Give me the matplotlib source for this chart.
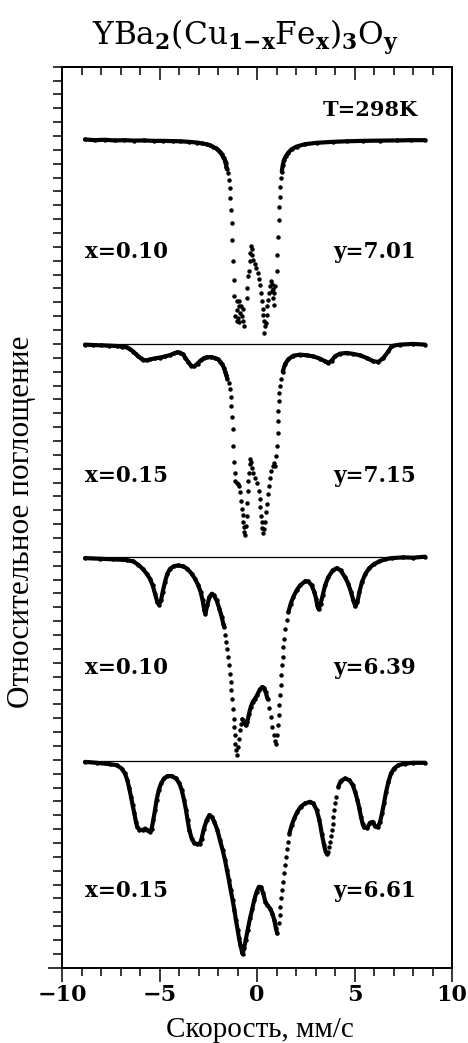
import numpy as np
import matplotlib.pyplot as plt
from matplotlib.ticker import MultipleLocator, FixedLocator

# Мёссбауэровские спектры YBa2(Cu1-xFex)3Oy, T=298K
# v - скорость (мм/с), d - глубина поглощения (в делениях оси y)

v1 = [-8.82, -8.3, -7.8, -7.3, -6.8, -6.3, -5.8, -5.3, -4.8, -4.3, -3.95, -3.5, -3.09, -2.8, -2.58,
      -2.4, -2.24, -2.1, -1.98, -1.88, -1.81, -1.74, -1.69, -1.64, -1.61, -1.57, -1.54,
      -1.50, -1.46, -1.40, -1.36, -1.33, -1.30, -1.26, -1.23, -1.20, -1.16,
      -1.04, -0.91, -0.94, -0.82, -1.04, -0.70, -0.87, -1.11, -0.99, -0.79, -1.04, -0.70, -0.65, -0.91,
      -0.53, -0.50, -0.44, -0.41, -0.38, -0.34, -0.31, -0.27, -0.24, -0.19, -0.12, -0.03, 0.05, 0.12,
      0.17, 0.21, 0.26, 0.29, 0.32, 0.36, 0.39, 0.34,
      0.44, 0.50, 0.53, 0.58, 0.63, 0.67, 0.70, 0.77, 0.84, 0.75, 0.89, 0.80, 0.87, 0.94,
      1.01, 1.04, 1.09, 1.13, 1.15, 1.16, 1.20, 1.23,
      1.27, 1.32, 1.38, 1.49, 1.61, 1.78, 2.03, 2.46, 3.06, 3.91, 4.6, 5.45, 6.3, 7.16, 7.9, 8.62]
d1 = [-0.05, 0.0, -0.03, 0.02, 0.0, 0.03, 0.02, 0.05, 0.05, 0.07, 0.08, 0.12, 0.17, 0.24, 0.30,
      0.38, 0.48, 0.60, 0.72, 0.88, 1.03, 1.20, 1.32, 1.50, 1.68, 1.90, 2.10,
      2.40, 2.88, 3.48, 4.20, 5.04, 6.00, 7.19, 8.75, 10.07, 11.27,
      11.63, 11.58, 11.99, 11.99, 12.23, 12.16, 12.47, 12.71, 12.83, 12.71, 13.07, 13.07, 13.38, 13.12,
      11.39, 10.67, 9.83, 9.47, 8.75, 8.15, 7.60, 7.84, 8.27, 8.63, 8.94, 9.23, 9.59, 10.00,
      10.48, 11.03, 11.63, 12.16, 12.64, 13.07, 13.43, 13.91,
      13.19, 12.59, 11.99, 11.51, 11.03, 10.55, 10.19, 10.38, 10.72, 10.91, 11.03, 11.39, 11.87, 10.55,
      9.47, 8.27, 6.95, 5.76, 4.80, 4.08, 3.36, 2.76,
      2.28, 1.80, 1.44, 1.13, 0.89, 0.65, 0.46, 0.29, 0.19, 0.12, 0.08, 0.05, 0.03, 0.02, 0.0, 0.0]

v2 = [-8.82, -8.4, -8.0, -7.6, -7.2, -6.9, -6.68, -6.5, -6.34, -6.2, -6.09, -5.95, -5.83, -5.66,
      -5.49, -5.25, -4.97, -4.7, -4.46, -4.25, -4.1, -3.95, -3.8, -3.69, -3.52, -3.37, -3.22, -3.05,
      -2.88, -2.72, -2.58, -2.35, -2.15, -2.0, -1.88, -1.78, -1.70, -1.63, -1.57, -1.52,
      -1.42, -1.38, -1.35, -1.32, -1.28, -1.25, -1.21, -1.18, -1.15, -1.11, -1.04, -0.96, -0.91,
      -0.87, -0.82, -0.77, -0.74, -0.70, -0.67, -0.65, -0.63, -0.56, -0.53, -0.50, -0.46, -0.44,
      -0.41, -0.38, -0.34, -0.31, -0.26, -0.19, -0.09, 0.02, 0.09, 0.14, 0.17, 0.21, 0.24, 0.27,
      0.31, 0.36, 0.39, 0.44, 0.50, 0.55, 0.60, 0.65, 0.72, 0.80, 0.87, 0.94, 0.99, 1.03, 1.06,
      1.08, 1.09, 1.11, 1.15, 1.18, 1.23,
      1.32, 1.44, 1.61, 1.86, 2.21, 2.55, 2.89, 3.23, 3.49, 3.66, 3.83, 4.0, 4.26, 4.6, 4.94,
      5.28, 5.62, 5.97, 6.22, 6.48, 6.74, 6.91, 7.33, 8.02, 8.62]
d2 = [0.05, 0.08, 0.10, 0.12, 0.15, 0.20, 0.25, 0.40, 0.55, 0.75, 0.90, 1.05, 1.15, 1.18,
      1.12, 1.05, 0.98, 0.90, 0.80, 0.68, 0.60, 0.62, 0.75, 0.98, 1.32, 1.58, 1.62, 1.42,
      1.18, 1.03, 0.96, 0.95, 1.02, 1.12, 1.28, 1.48, 1.72, 2.00, 2.25, 2.52,
      2.79, 3.27, 3.80, 4.47, 5.24, 6.15, 7.35, 8.55, 9.28, 9.88, 10.00, 10.10, 10.24,
      10.67, 11.32, 11.92, 12.35, 12.83, 13.24, 13.60, 13.80, 13.12, 12.40, 11.44, 10.60, 9.88,
      9.28, 8.67, 8.27, 8.51, 8.92, 9.28, 9.64, 10.05, 10.60, 11.20, 11.80, 12.40, 12.88, 13.31,
      13.65, 13.36, 12.83, 12.16, 11.56, 10.84, 10.24, 9.64, 9.16, 8.80, 8.60, 8.80, 8.07, 7.35, 6.39,
      5.55, 4.83, 4.11, 3.51, 3.03, 2.55,
      2.00, 1.45, 1.10, 0.85, 0.77, 0.82, 0.90, 1.06, 1.25, 1.37, 1.20, 0.89, 0.70, 0.65, 0.72,
      0.82, 1.01, 1.25, 1.30, 1.01, 0.53, 0.15, 0.05, 0.0, 0.05]

v3 = [-8.82, -8.05, -7.37, -6.68, -6.34, -6.09, -5.83, -5.66, -5.49, -5.35, -5.23, -5.11, -5.03,
      -4.92, -4.84, -4.72, -4.6, -4.46, -4.26, -4.03, -3.78, -3.57, -3.35, -3.18, -3.01, -2.89,
      -2.79, -2.70, -2.65, -2.55, -2.44, -2.32, -2.21, -2.07, -1.93, -1.81, -1.73, -1.68,
      -1.64, -1.61, -1.56, -1.50, -1.45, -1.40, -1.35, -1.32, -1.26, -1.23, -1.20, -1.16, -1.13,
      -1.11, -1.08, -1.04, -0.99, -0.94, -0.89, -0.82,
      -0.75, -0.67, -0.58, -0.50, -0.41, -0.32, -0.22, -0.10, 0.02, 0.15, 0.27, 0.36, 0.44, 0.55,
      0.63, 0.72, 0.79, 0.85, 0.92, 0.97, 1.03, 1.08, 1.11, 1.15, 1.18, 1.21, 1.25, 1.28, 1.32,
      1.35, 1.40, 1.45, 1.52,
      1.61, 1.73, 1.86, 2.03, 2.21, 2.46, 2.63, 2.80, 2.94, 3.03, 3.09, 3.16, 3.26, 3.37, 3.49,
      3.66, 3.88, 4.09, 4.29, 4.51, 4.68, 4.82, 4.94, 5.04, 5.15, 5.25, 5.38, 5.56, 5.76, 6.0,
      6.27, 6.56, 6.91, 7.5, 8.02, 8.62]
d3 = [0.05, 0.10, 0.14, 0.19, 0.29, 0.53, 0.87, 1.18, 1.54, 2.02, 2.62, 3.22, 3.41,
      3.10, 2.50, 1.78, 1.18, 0.82, 0.63, 0.58, 0.65, 0.82, 1.18, 1.54, 2.02, 2.50,
      3.10, 3.82, 4.06, 3.46, 2.86, 2.62, 2.74, 3.10, 3.70, 4.30, 4.78, 5.02,
      5.63, 6.11, 6.59, 7.19, 7.79, 8.39, 8.99, 9.59, 10.19, 10.91, 11.63, 12.24, 12.84,
      13.44, 13.92, 14.23, 13.68, 13.08, 12.48, 12.00,
      11.68, 11.83, 12.12, 11.88, 11.27, 10.79, 10.43, 10.19, 9.90, 9.52, 9.35, 9.42, 9.71, 10.24,
      10.87, 11.51, 12.24, 12.84, 13.27, 13.44, 12.84, 12.12, 11.39, 10.67, 9.95, 9.23, 8.51, 7.79, 7.19,
      6.47, 5.87, 5.19, 4.54,
      3.94, 3.34, 2.86, 2.38, 2.02, 1.73, 1.73, 2.02, 2.50, 2.98, 3.46, 3.75, 3.34, 2.74, 2.02,
      1.42, 0.94, 0.77, 0.94, 1.42, 1.90, 2.50, 3.10, 3.53, 3.22, 2.50, 1.78, 1.18, 0.77, 0.48,
      0.29, 0.14, 0.05, 0.0, 0.02, -0.05]

v4 = [-8.82, -8.22, -7.54, -7.2, -6.94, -6.77, -6.65, -6.55, -6.46, -6.38, -6.29, -6.21, -6.14,
      -6.04, -5.86, -5.74, -5.62, -5.49, -5.40, -5.32, -5.23, -5.15, -5.04, -4.92, -4.77, -4.60,
      -4.38, -4.15, -3.98, -3.86, -3.74, -3.64, -3.56, -3.47, -3.35, -3.23, -3.06, -2.92, -2.84,
      -2.72, -2.58, -2.44, -2.32, -2.19, -2.03, -1.90, -1.76, -1.64, -1.54, -1.44, -1.35, -1.25,
      -1.16, -1.08, -0.99, -0.92, -0.85, -0.79, -0.74, -0.67, -0.58, -0.48, -0.36, -0.24, -0.14,
      -0.02, 0.10, 0.21, 0.32, 0.43, 0.53, 0.67, 0.79, 0.89, 0.97, 1.04,
      1.11, 1.16, 1.20, 1.23, 1.26, 1.32, 1.37, 1.42, 1.47, 1.52, 1.57,
      1.66, 1.78, 1.91, 2.07, 2.24, 2.46, 2.72, 2.89, 3.06, 3.20, 3.32, 3.44, 3.52, 3.61,
      3.66, 3.71, 3.75, 3.79, 3.83, 3.88, 3.92, 3.97, 4.01, 4.05,
      4.17, 4.29, 4.51, 4.74, 4.91, 5.03, 5.15, 5.25, 5.33, 5.42, 5.50, 5.66, 5.79, 5.93, 6.05,
      6.19, 6.31, 6.41, 6.51, 6.62, 6.74, 6.87, 7.03, 7.25, 7.59, 8.02, 8.62]
d4 = [0.05, 0.12, 0.22, 0.29, 0.53, 0.89, 1.37, 1.97, 2.57, 3.17, 3.77, 4.38, 4.74,
      4.93, 4.98, 4.86, 4.98, 5.10, 4.86, 4.25, 3.53, 2.81, 2.09, 1.61, 1.25, 1.08,
      1.08, 1.25, 1.61, 2.09, 2.81, 3.53, 4.25, 4.98, 5.58, 5.89, 5.99, 5.94, 5.58,
      4.86, 4.25, 3.89, 4.01, 4.38, 4.98, 5.70, 6.42, 7.14, 7.86, 8.58, 9.30, 10.02,
      10.75, 11.47, 12.19, 12.79, 13.27, 13.63, 13.92, 13.51, 12.91, 12.19, 11.35, 10.63, 10.02,
      9.42, 9.06, 9.11, 9.54, 10.14, 10.38, 10.63, 10.99, 11.47, 12.07, 12.43,
      11.71, 11.11, 10.50, 9.90, 9.30, 8.70, 8.10, 7.50, 6.90, 6.37, 5.82,
      5.22, 4.62, 4.13, 3.65, 3.29, 3.05, 2.93, 3.05, 3.53, 4.25, 5.22, 6.06, 6.54, 6.71,
      6.55, 6.20, 5.80, 5.40, 4.95, 4.50, 4.00, 3.50, 3.00, 2.57,
      1.85, 1.44, 1.25, 1.37, 1.73, 2.21, 2.81, 3.41, 4.01, 4.54, 4.78, 4.81, 4.45, 4.38, 4.69,
      4.78, 4.38, 3.77, 3.05, 2.21, 1.49, 0.89, 0.53, 0.29, 0.17, 0.12, 0.12]

x_labels = ['x=0.10', 'x=0.15', 'x=0.10', 'x=0.15']
y_labels = ['y=7.01', 'y=7.15', 'y=6.39', 'y=6.61']

spectra = [(v1, d1), (v2, d2), (v3, d3), (v4, d4)]
baselines = [59.7, 45.0, 29.6, 14.9]
label_dy = [-8.1, -9.55, -8.0, -9.4]
# участки, где точки идут редко (рисуются только точками)
sparse = [[(-1.52, 1.25)], [(-1.47, 1.28)], [(-1.66, -0.78), (0.6, 1.58)], [(1.06, 1.6), (3.63, 4.08)]]

plt.rcParams['mathtext.fontset'] = 'dejavuserif'

fig = plt.figure(figsize=(4.68, 10.43), dpi=100)
ax = fig.add_axes([62 / 468, 1 - 967.7 / 1043, 390 / 468, 901 / 1043])
ax.set_xlim(-10, 10)
ax.set_ylim(0, 65)

for i, (v, d) in enumerate(spectra):
    v = np.array(v)
    y = baselines[i] - np.array(d)
    ax.plot(v, y, 'o', ms=3.2, mew=0, color='k')
    inside = np.zeros(len(v), dtype=bool)
    for lo, hi in sparse[i]:
        inside |= (v > lo) & (v < hi)
    # плотные участки - сплошной жирной линией
    run = []
    for k in range(len(v)):
        if not inside[k]:
            run.append(k)
        elif run:
            ax.plot(v[run], y[run], '-', lw=3.0, color='k',
                    solid_capstyle='round', solid_joinstyle='round')
            run = []
    if run:
        ax.plot(v[run], y[run], '-', lw=3.0, color='k',
                solid_capstyle='round', solid_joinstyle='round')
    if i > 0:
        ax.plot([-8.8, 8.6], [baselines[i], baselines[i]], lw=0.9, color='k')
    ax.text(-8.82, baselines[i] + label_dy[i], x_labels[i], ha='left', va='center',
            fontsize=15.5, family='DejaVu Serif', weight='bold')
    ax.text(8.15, baselines[i] + label_dy[i], y_labels[i], ha='right', va='center',
            fontsize=15.5, family='DejaVu Serif', weight='bold')

ax.text(8.26, 61.9, 'T=298K', ha='right', va='center', fontsize=15, family='DejaVu Serif',
        weight='bold')

# оси и деления
for s in ax.spines.values():
    s.set_linewidth(1.4)
ax.xaxis.set_major_locator(MultipleLocator(5))
ax.xaxis.set_minor_locator(MultipleLocator(1))
ax.tick_params(axis='x', which='both', direction='out', top=False, width=1.1)
ax.tick_params(axis='x', which='major', length=10, pad=2, labelsize=16)
ax.tick_params(axis='x', which='minor', length=6)
for lab in ax.get_xticklabels():
    lab.set_family('DejaVu Serif')
    lab.set_weight('bold')

top = ax.secondary_xaxis('top')
top.xaxis.set_major_locator(MultipleLocator(5))
top.xaxis.set_minor_locator(MultipleLocator(1))
top.tick_params(axis='x', which='both', direction='in', labeltop=False, width=1.1)
top.tick_params(axis='x', which='major', length=9)
top.tick_params(axis='x', which='minor', length=6)
top.spines['top'].set_linewidth(1.4)

ax.yaxis.set_major_locator(FixedLocator([0]))
ax.yaxis.set_minor_locator(MultipleLocator(1))
ax.tick_params(axis='y', which='both', direction='out', right=False, labelleft=False, width=1.1)
ax.tick_params(axis='y', which='major', length=10)
ax.tick_params(axis='y', which='minor', length=6.3)

fig.text(246 / 468, 1 - 45 / 1043,
         r'YBa$_\mathbf{2}$(Cu$_\mathbf{1{-}x}$Fe$_\mathbf{x}$)$_\mathbf{3}$O$_\mathbf{y}$',
         ha='center', va='baseline', fontsize=22.5, family='DejaVu Serif')
fig.text(22 / 468, 1 - 522 / 1043, 'Относительное поглощение', rotation=90,
         ha='center', va='center', fontsize=22.5, family='Liberation Serif')
fig.text(260 / 468, 1 - 1036.7 / 1043, 'Скорость, мм/с', ha='center', va='baseline',
         fontsize=21, family='Liberation Serif')

fig.savefig('out.png', dpi=100)
